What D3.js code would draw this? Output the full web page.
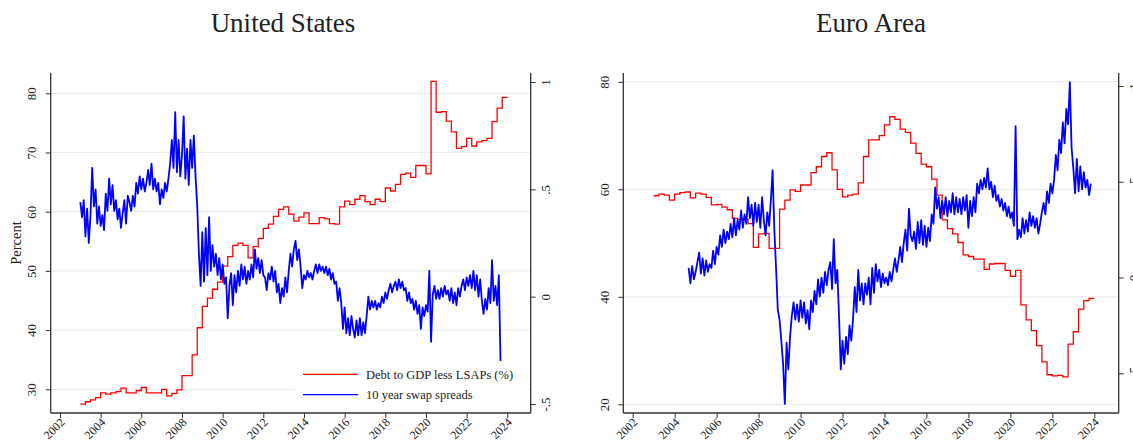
<!DOCTYPE html>
<html>
<head>
<meta charset="utf-8">
<script src="https://cdnjs.cloudflare.com/ajax/libs/d3/7.8.5/d3.min.js"></script>
<style>
  body { margin: 0; background: #fff; }
  svg text { font-family: "Liberation Serif", "Times New Roman", serif; fill: #222; }
</style>
</head>
<body>
<div id="chart"></div>
<script>
// x axis years
const years = [2002, 2004, 2006, 2008, 2010, 2012, 2014, 2016, 2018, 2020, 2022, 2024];

// debt to GDP less LSAPs, quarterly from 2003Q1 (left axis, percent)
const usDebt = [27.5, 27.9, 28.2, 28.6, 29.4, 29.2, 29.4, 29.6, 30.2, 29.4,
  29.4, 29.8, 30.3, 29.4, 29.4, 29.4, 30.0, 28.9, 29.3, 29.9,
  32.3, 32.3, 35.8, 40.4, 44.0, 45.4, 46.9, 48.1, 50.8, 52.4,
  54.3, 54.7, 54.3, 52.2, 54.1, 55.5, 57.2, 57.9, 59.2, 60.4,
  60.8, 59.6, 58.4, 59.1, 59.8, 58.0, 58.0, 59.0, 58.8, 58.0,
  57.9, 60.8, 61.8, 61.2, 62.1, 62.7, 61.7, 61.2, 62.1, 61.7,
  64.0, 63.5, 64.6, 66.3, 66.5, 65.8, 67.8, 67.8, 66.4, 82.0,
  76.8, 76.9, 75.3, 73.5, 70.7, 71.0, 72.4, 71.1, 71.8, 72.0,
  72.4, 75.2, 77.5, 79.3];
const eaDebt = [58.8, 59.1, 58.9, 58.0, 59.1, 59.4, 59.5, 58.4, 59.3, 59.1,
  58.5, 57.1, 57.2, 56.7, 56.2, 54.6, 54.4, 54.4, 53.6, 49.2,
  51.7, 51.8, 49.0, 49.0, 56.3, 58.0, 59.9, 59.6, 60.8, 60.8,
  63.1, 64.2, 66.1, 66.8, 63.6, 60.0, 58.6, 58.9, 59.1, 61.2,
  66.1, 69.2, 69.2, 70.0, 72.0, 73.5, 73.0, 71.2, 70.6, 68.6,
  66.7, 64.7, 64.2, 61.9, 58.9, 54.3, 52.7, 51.7, 50.1, 47.8,
  47.5, 47.0, 47.0, 45.1, 46.1, 46.2, 46.2, 44.9, 43.8, 44.9,
  38.5, 35.7, 33.7, 30.9, 27.9, 25.5, 25.3, 25.4, 25.1, 31.2,
  33.5, 37.7, 39.3, 39.7];
const debtStart = 2003;

// 10 year swap spreads, monthly (right axis)
const usSwapStart = 2003;
const usSwap = [0.44, 0.37, 0.45, 0.28, 0.41, 0.25, 0.38, 0.60, 0.42, 0.50,
  0.34, 0.42, 0.33, 0.38, 0.31, 0.48, 0.40, 0.55, 0.43, 0.52,
  0.40, 0.45, 0.36, 0.41, 0.32, 0.39, 0.45, 0.34, 0.47, 0.44,
  0.40, 0.47, 0.42, 0.53, 0.48, 0.56, 0.50, 0.55, 0.49, 0.53,
  0.59, 0.52, 0.62, 0.50, 0.55, 0.49, 0.53, 0.43, 0.50, 0.46,
  0.53, 0.49, 0.55, 0.62, 0.73, 0.60, 0.86, 0.58, 0.73, 0.56,
  0.66, 0.84, 0.55, 0.69, 0.52, 0.73, 0.60, 0.75, 0.56, 0.42,
  0.20, 0.05, 0.30, 0.07, 0.32, 0.10, 0.37, 0.12, 0.24, 0.14,
  0.20, 0.10, 0.18, 0.08, 0.15, 0.06, 0.09, -0.10, 0.05, 0.11,
  -0.04, 0.10, 0.02, 0.12, 0.05, 0.15, 0.08, 0.14, 0.06, 0.12,
  0.08, 0.15, 0.09, 0.22, 0.13, 0.18, 0.11, 0.17, 0.10, 0.09,
  0.03, 0.11, 0.08, 0.14, 0.07, 0.12, 0.02, 0.06, -0.03, 0.04,
  0.00, 0.09, 0.02, 0.12, 0.20, 0.14, 0.22, 0.26, 0.17, 0.22,
  0.14, 0.04, 0.10, 0.08, 0.12, 0.09, 0.11, 0.08, 0.12, 0.15,
  0.11, 0.15, 0.12, 0.14, 0.11, 0.14, 0.10, 0.13, 0.08, 0.11,
  0.06, 0.07, -0.02, 0.04, -0.03, -0.15, -0.05, -0.17, -0.10, -0.18,
  -0.09, -0.15, -0.19, -0.11, -0.18, -0.10, -0.18, -0.12, -0.17, -0.09,
  0.00, -0.06, -0.02, -0.05, -0.02, -0.06, -0.03, -0.05, 0.00, -0.03,
  0.02, -0.01, 0.03, 0.06, 0.02, 0.05, 0.07, 0.03, 0.08, 0.04,
  0.07, 0.03, 0.04, -0.02, 0.02, -0.03, -0.01, -0.06, -0.02, -0.08,
  -0.04, -0.15, -0.05, -0.09, -0.04, -0.07, 0.12, -0.21, 0.01, 0.05,
  -0.01, 0.03, -0.01, 0.04, 0.00, 0.05, 0.01, 0.03, -0.02, 0.04,
  -0.03, 0.02, -0.04, 0.04, 0.00, 0.05, 0.08, 0.03, 0.09, 0.05,
  0.10, 0.04, 0.12, 0.03, 0.10, 0.00, 0.08, -0.02, -0.08, -0.01,
  -0.06, 0.04, -0.03, 0.17, -0.02, 0.05, -0.04, 0.10, -0.30];
const eaSwapStart = 2004 + 8 / 12;
const eaSwap = [0.05, -0.03, 0.06, -0.01, 0.03, 0.08, 0.13, 0.02, 0.10, 0.01,
  0.09, 0.03, 0.07, 0.05, 0.14, 0.07, 0.16, 0.12, 0.22, 0.16,
  0.25, 0.18, 0.24, 0.20, 0.28, 0.21, 0.31, 0.22, 0.30, 0.25,
  0.35, 0.26, 0.33, 0.28, 0.42, 0.31, 0.38, 0.27, 0.39, 0.29,
  0.38, 0.26, 0.42, 0.30, 0.22, 0.34, 0.27, 0.40, 0.56, 0.25,
  0.05, -0.17, -0.22, -0.33, -0.45, -0.66, -0.34, -0.48, -0.31, -0.20,
  -0.13, -0.22, -0.14, -0.23, -0.12, -0.21, -0.13, -0.24, -0.17, -0.27,
  -0.12, -0.18, -0.07, -0.14, -0.01, -0.10, 0.00, -0.08, 0.03, -0.04,
  0.04, 0.08, -0.06, 0.20, -0.03, 0.04, -0.20, -0.48, -0.33, -0.45,
  -0.31, -0.40, -0.25, -0.33, -0.22, -0.05, -0.18, 0.04, -0.12, -0.03,
  -0.14, -0.03, -0.09, 0.00, -0.14, 0.05, -0.08, 0.07, -0.02, 0.04,
  -0.05, 0.02, -0.03, 0.00, -0.04, 0.03, -0.02, 0.04, 0.10, 0.03,
  0.09, 0.16, 0.08, 0.18, 0.25, 0.14, 0.36, 0.22, 0.19, 0.24,
  0.15, 0.29, 0.18, 0.30, 0.17, 0.27, 0.16, 0.26, 0.19, 0.33,
  0.28, 0.47, 0.36, 0.42, 0.31, 0.40, 0.33, 0.42, 0.32, 0.40,
  0.34, 0.44, 0.33, 0.42, 0.34, 0.41, 0.33, 0.42, 0.35, 0.43,
  0.26, 0.40, 0.32, 0.42, 0.34, 0.49, 0.44, 0.51, 0.46, 0.52,
  0.47, 0.57, 0.46, 0.50, 0.42, 0.48, 0.40, 0.43, 0.37, 0.41,
  0.35, 0.39, 0.32, 0.37, 0.31, 0.34, 0.27, 0.79, 0.20, 0.25,
  0.21, 0.31, 0.23, 0.30, 0.24, 0.34, 0.27, 0.32, 0.26, 0.31,
  0.23, 0.28, 0.34, 0.39, 0.33, 0.45, 0.39, 0.49, 0.44, 0.51,
  0.64, 0.56, 0.72, 0.65, 0.81, 0.70, 0.88, 0.80, 1.02, 0.68,
  0.57, 0.44, 0.62, 0.45, 0.58, 0.46, 0.55, 0.47, 0.51, 0.43, 0.49];

const usLeftTicks = [30, 40, 50, 60, 70, 80];
const eaLeftTicks = [20, 40, 60, 80];
const rightTicks = [-0.5, 0, 0.5, 1];
const rightTickLabels = ["-.5", "0", ".5", "1"];
const titles = ["United States", "Euro Area"];
const legendLabels = ["Debt to GDP less LSAPs (%)", "10 year swap spreads"];

const RED = "#ff0000", BLUE = "#0000ff", AXIS = "#333", GRID = "#e9eff1";

const svg = d3.select("#chart").append("svg")
  .attr("width", 1133)
  .attr("height", 443);

function quarterly(values, start) {
  let pts = values.map((v, i) => ({ t: start + i / 4, v: v }));
  pts.push({ t: start + values.length / 4, v: values[values.length - 1] });
  return pts;
}

function monthly(values, start) {
  return values.map((v, i) => ({ t: start + i / 12, v: v }));
}

function draw_panel(p) {
  let g = svg.append("g");

  let x = d3.scaleLinear().domain([2002, 2024]).range(p.xRange);
  let yL = d3.scaleLinear().domain(p.leftDomain).range(p.leftRange);
  let yR = d3.scaleLinear().domain([-0.5, 1]).range(p.rightRange);

  // title
  g.append("text")
    .attr("x", p.titleX)
    .attr("y", 32)
    .attr("text-anchor", "middle")
    .attr("font-size", 27)
    .text(p.title);

  // gridlines
  g.selectAll(".grid")
    .data(p.leftTicks)
    .enter().append("line")
    .attr("x1", p.left)
    .attr("x2", p.right)
    .attr("y1", d => yL(d))
    .attr("y2", d => yL(d))
    .style("stroke", GRID)
    .style("stroke-width", 1.2);

  let debtLine = d3.line().x(d => x(d.t)).y(d => yL(d.v)).curve(d3.curveStepAfter);
  let swapLine = d3.line().x(d => x(d.t)).y(d => yR(d.v));

  g.append("path")
    .datum(quarterly(p.debt, debtStart))
    .attr("d", debtLine)
    .style("fill", "none")
    .style("stroke", RED)
    .style("stroke-width", 1.3);

  g.append("path")
    .datum(monthly(p.swap, p.swapStart))
    .attr("d", swapLine)
    .style("fill", "none")
    .style("stroke", BLUE)
    .style("stroke-width", 1.8)
    .style("stroke-linejoin", "round");

  if (p.legend) {
    let lg = g.append("g");
    lg.append("rect")
      .attr("x", 295).attr("y", 363)
      .attr("width", 233).attr("height", 48)
      .style("fill", "#fff");
    let items = lg.selectAll(".item")
      .data([{ label: legendLabels[0], color: RED }, { label: legendLabels[1], color: BLUE }])
      .enter().append("g")
      .attr("transform", (d, i) => `translate(303,${374.3 + i * 20.3})`);
    items.append("line")
      .attr("x1", 0).attr("x2", 55)
      .style("stroke", d => d.color)
      .style("stroke-width", 1.3);
    items.append("text")
      .attr("x", 63)
      .attr("y", 4.5)
      .attr("font-size", 12.5)
      .text(d => d.label);
  }

  // axes
  let fontAttrs = sel => sel.attr("font-family", null).attr("font-size", 13).attr("color", AXIS);

  let gx = g.append("g")
    .attr("transform", `translate(0,${p.bottom})`)
    .call(d3.axisBottom(x).tickValues(years).tickFormat(d3.format("d")).tickSize(5))
    .call(fontAttrs);
  gx.select(".domain").remove();
  gx.selectAll("text")
    .attr("y", 0).attr("dy", null)
    .attr("font-size", 12)
    .attr("text-anchor", "end")
    .attr("transform", "translate(5,10) rotate(-45)");

  let gl = g.append("g")
    .attr("transform", `translate(${p.left},0)`)
    .call(d3.axisLeft(yL).tickValues(p.leftTicks).tickSize(5))
    .call(fontAttrs);
  gl.select(".domain").remove();
  gl.selectAll("text")
    .attr("x", 0).attr("dy", null)
    .attr("text-anchor", "middle")
    .attr("transform", "translate(-14.5,0) rotate(-90)");

  let gr = g.append("g")
    .attr("transform", `translate(${p.right},0)`)
    .call(d3.axisRight(yR).tickValues(rightTicks).tickSize(5)
      .tickFormat((d, i) => rightTickLabels[i]))
    .call(fontAttrs);
  gr.select(".domain").remove();
  gr.selectAll("text")
    .attr("x", 0).attr("dy", null)
    .attr("text-anchor", "middle")
    .attr("transform", "translate(19,0) rotate(-90)");

  let frame = [
    [p.left, p.top, p.left, p.bottom],
    [p.right, p.top, p.right, p.bottom],
    [p.left, p.bottom, p.right, p.bottom]
  ];
  g.selectAll(".frame")
    .data(frame)
    .enter().append("line")
    .attr("x1", d => d[0]).attr("y1", d => d[1])
    .attr("x2", d => d[2]).attr("y2", d => d[3])
    .style("stroke", AXIS)
    .style("stroke-width", 1.3);

  if (p.yTitle) {
    g.append("text")
      .attr("transform", `translate(21,${(p.top + p.bottom) / 2}) rotate(-90)`)
      .attr("text-anchor", "middle")
      .attr("font-size", 14.5)
      .text(p.yTitle);
  }
}

draw_panel({
  title: titles[0], titleX: 283,
  left: 50.7, right: 530.7, top: 73, bottom: 413,
  xRange: [60, 507.3],
  leftDomain: [30, 80], leftRange: [389.3, 93.3],
  rightRange: [404, 82],
  leftTicks: usLeftTicks,
  debt: usDebt, swap: usSwap, swapStart: usSwapStart,
  legend: true, yTitle: "Percent"
});

draw_panel({
  title: titles[1], titleX: 871,
  left: 623.3, right: 1118.7, top: 73, bottom: 413,
  xRange: [632.7, 1094.3],
  leftDomain: [20, 80], leftRange: [404.3, 81.8],
  rightRange: [373.3, 86],
  leftTicks: eaLeftTicks,
  debt: eaDebt, swap: eaSwap, swapStart: eaSwapStart,
  legend: false
});
</script>
</body>
</html>
